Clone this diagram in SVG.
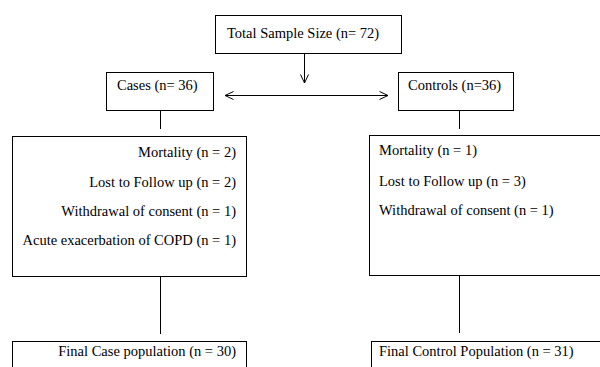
<svg xmlns="http://www.w3.org/2000/svg" width="600" height="367" viewBox="0 0 600 367">
<defs>
<style>
.box{fill:#fff;stroke:#000;stroke-width:1}
text{font-family:'Liberation Serif','DejaVu Serif',serif;font-size:14.5px;fill:#000}
.r{text-anchor:end}
.ln{stroke:#000;stroke-width:1;fill:none}
</style>
<marker id="ah" viewBox="0 0 10 10" refX="9.5" refY="5" markerWidth="10" markerHeight="10" markerUnits="userSpaceOnUse" orient="auto-start-reverse">
<path d="M1,1 L9.5,5 L1,9" fill="none" stroke="#000" stroke-width="1"/>
</marker>
</defs>
<rect width="600" height="367" fill="#fff"/>
<g id="connectors">
<line class="ln" x1="304.5" y1="53" x2="304.5" y2="83" marker-end="url(#ah)"/>
<line class="ln" x1="225" y1="95.5" x2="388" y2="95.5" marker-start="url(#ah)" marker-end="url(#ah)"/>
<line class="ln" x1="160.5" y1="111" x2="160.5" y2="129"/>
<line class="ln" x1="459.5" y1="111" x2="459.5" y2="129"/>
<line class="ln" x1="160.5" y1="276" x2="160.5" y2="334"/>
<line class="ln" x1="459.5" y1="276" x2="459.5" y2="333"/>
</g>
<g id="total">
<rect class="box" x="215.5" y="15.5" width="186" height="38"/>
<text x="227" y="38">Total Sample Size (n= 72)</text>
</g>
<g id="cases">
<rect class="box" x="106.5" y="72.5" width="107" height="38"/>
<text x="117" y="90">Cases (n= 36)</text>
</g>
<g id="controls">
<rect class="box" x="398.5" y="72.5" width="115" height="38"/>
<text x="408" y="90">Controls (n=36)</text>
</g>
<g id="cases-exclusions">
<rect class="box" x="12.5" y="136.5" width="234" height="140"/>
<text class="r" x="236" y="157">Mortality (n = 2)</text>
<text class="r" x="236" y="187">Lost to Follow up (n = 2)</text>
<text class="r" x="236" y="216">Withdrawal of consent (n = 1)</text>
<text class="r" x="236" y="245">Acute exacerbation of COPD (n = 1)</text>
</g>
<g id="controls-exclusions">
<rect class="box" x="369.5" y="135.5" width="240" height="140"/>
<text x="379" y="155">Mortality (n = 1)</text>
<text x="379" y="186">Lost to Follow up (n = 3)</text>
<text x="379" y="215">Withdrawal of consent (n = 1)</text>
</g>
<g id="final-cases">
<rect class="box" x="12.5" y="341.5" width="234" height="40"/>
<text class="r" x="236" y="356">Final Case population (n = 30)</text>
</g>
<g id="final-controls">
<rect class="box" x="371.5" y="341.5" width="240" height="40"/>
<text x="379" y="356">Final Control Population (n = 31)</text>
</g>
</svg>
